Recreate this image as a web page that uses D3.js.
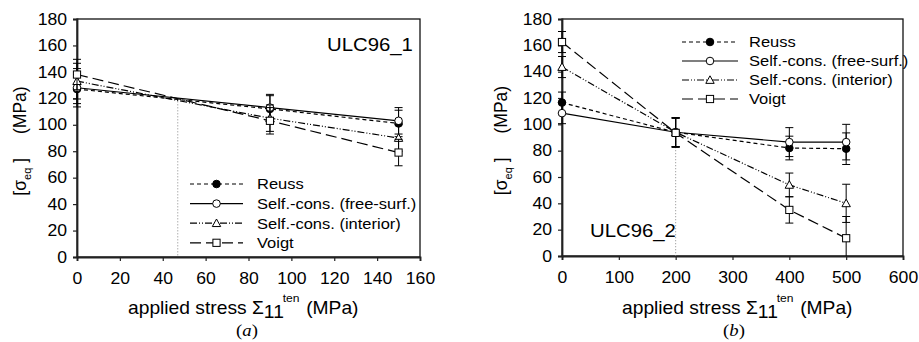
<!DOCTYPE html>
<html>
<head>
<meta charset="utf-8">
<script src="https://cdn.jsdelivr.net/npm/d3@7"></script>
<style>
  body { margin: 0; background: #fff; }
  svg { display: block; font-family: "Liberation Sans", Arial, sans-serif; }
</style>
</head>
<body>
<svg id="chart" width="919" height="342"></svg>
<script>
// ---- data ----
const seriesNames = ["Reuss", "Self.-cons. (free-surf.)", "Self.-cons. (interior)", "Voigt"];

// panel (a) ULC96_1
const xA = [0, 90, 150];
const reussA = [127, 112, 101];
const freeA = [128, 113, 103];
const interiorA = [133, 105, 90];
const voigtA = [138, 103, 79];
const reussErrA = [11, 10, 10];
const freeErrA = [14.5, 10, 10];
const interiorErrA = [13.5, 10, 10];
const voigtErrA = [11.5, 10, 10];
const xTicksA = [0, 20, 40, 60, 80, 100, 120, 140, 160];
const refXA = 47, refYA = 120;

// panel (b) ULC96_2
const xB = [0, 200, 400, 500];
const reussB = [116.5, 94, 82, 81.5];
const freeB = [108.5, 94, 86.5, 86.5];
const interiorB = [143.5, 94, 54, 40];
const voigtB = [162.5, 93.5, 35, 13.5];
const reussErrB = [8, 11, 9, 12];
const freeErrB = [8, 11, 11, 13.5];
const interiorErrB = [8, 11, 9, 14.5];
const voigtErrB = [8, 11, 10, 16.5];
const xTicksB = [0, 100, 200, 300, 400, 500, 600];
const refXB = 200, refYB = 94;

const yTicks = [0, 20, 40, 60, 80, 100, 120, 140, 160, 180];

// ---- styles ----
const dashes = ["4,3", null, "7,2,1,2,1,2", "11,5"];
const markers = ["dot", "circle", "triangle", "square"];
const STRETCH = 1.1; // horizontal text stretch seen in the reference

const svg = d3.select("#chart");

function drawMarker(g, type, x, y) {
  if (type === "dot") {
    g.append("circle").attr("cx", x).attr("cy", y).attr("r", 3.8).attr("fill", "#000").attr("stroke", "#000");
  } else if (type === "circle") {
    g.append("circle").attr("cx", x).attr("cy", y).attr("r", 3.8).attr("fill", "#fff").attr("stroke", "#000").attr("stroke-width", 1);
  } else if (type === "triangle") {
    const s = 4.2;
    g.append("path").attr("d", `M${x},${y - s}L${x + s},${y + s * 0.8}L${x - s},${y + s * 0.8}Z`)
      .attr("fill", "#fff").attr("stroke", "#000").attr("stroke-width", 1);
  } else {
    g.append("rect").attr("x", x - 3.6).attr("y", y - 3.6).attr("width", 7.2).attr("height", 7.2)
      .attr("fill", "#fff").attr("stroke", "#000").attr("stroke-width", 1);
  }
}

function panel(opts) {
  const { left, right, top, bottom, xDomain, xTicks, xs, ys, errs, ref, label, labelPos, legendPos, titleX, letter, letterX, yTitleX } = opts;
  const x = d3.scaleLinear().domain(xDomain).range([left, right]);
  const y = d3.scaleLinear().domain([0, 180]).range([bottom, top]);
  const g = svg.append("g");

  // frame
  g.append("rect").attr("x", left).attr("y", top).attr("width", right - left).attr("height", bottom - top)
    .attr("fill", "none").attr("stroke", "#111").attr("stroke-width", 1.3);

  // axes
  const yAx = g.append("g").attr("transform", `translate(${left},0)`)
    .call(d3.axisLeft(y).tickValues(yTicks).tickSize(4).tickPadding(6));
  const xAx = g.append("g").attr("transform", `translate(0,${bottom})`)
    .call(d3.axisBottom(x).tickValues(xTicks).tickSize(4).tickPadding(12));
  [yAx, xAx].forEach(a => {
    a.select(".domain").attr("stroke", "#222").attr("stroke-width", 1.8);
    a.selectAll(".tick line").attr("stroke", "#222").attr("stroke-width", 1.2);
    a.selectAll("text").attr("font-size", 16).attr("fill", "#000").attr("font-family", "Liberation Sans, Arial, sans-serif");
  });

  // reference dotted line
  g.append("line").attr("x1", x(ref[0])).attr("x2", x(ref[0])).attr("y1", y(ref[1])).attr("y2", bottom)
    .attr("stroke", "#888").attr("stroke-width", 1).attr("stroke-dasharray", "1,2");

  // series
  seriesNames.forEach((name, i) => {
    const pts = xs.map((xv, j) => [xv, ys[i][j], errs[i][j]]);
    const line = d3.line().x(d => x(d[0])).y(d => y(d[1]));
    g.append("path").datum(pts).attr("d", line).attr("fill", "none").attr("stroke", "#000")
      .attr("stroke-width", 1.2).attr("stroke-dasharray", dashes[i]);
    pts.forEach(d => {
      const cx = x(d[0]);
      const lo = Math.max(0, d[1] - d[2]), hi = d[1] + d[2];
      g.append("line").attr("x1", cx).attr("x2", cx).attr("y1", y(lo)).attr("y2", y(hi)).attr("stroke", "#000").attr("stroke-width", 1);
      [lo, hi].forEach(v => {
        if (v > 0) g.append("line").attr("x1", cx - 4).attr("x2", cx + 4).attr("y1", y(v)).attr("y2", y(v)).attr("stroke", "#000").attr("stroke-width", 1);
      });
    });
    pts.forEach(d => drawMarker(g, markers[i], x(d[0]), y(d[1])));
  });

  // legend
  seriesNames.forEach((name, i) => {
    const ly = legendPos.y + i * legendPos.dy;
    g.append("line").attr("x1", legendPos.x0).attr("x2", legendPos.x1).attr("y1", ly).attr("y2", ly)
      .attr("stroke", "#000").attr("stroke-width", 1.2).attr("stroke-dasharray", dashes[i]);
    drawMarker(g, markers[i], (legendPos.x0 + legendPos.x1) / 2, ly);
    g.append("text").attr("class", "stretch").attr("x", legendPos.tx).attr("y", ly + 5.5).attr("font-size", 15).text(name);
  });

  // panel label
  g.append("text").attr("class", "stretch").attr("x", labelPos[0]).attr("y", labelPos[1]).attr("font-size", 18.5).text(label);

  // x title
  const xt = g.append("text").attr("class", "stretch").attr("x", titleX).attr("y", 314).attr("font-size", 17.5);
  xt.append("tspan").text("applied stress \u03A3");
  xt.append("tspan").attr("dy", 4).text("11");
  xt.append("tspan").attr("dx", -1).attr("dy", -16).attr("font-size", 11).text("ten");
  xt.append("tspan").attr("dy", 12).attr("dx", 6).text("(MPa)");

  // letter
  g.append("text").attr("class", "stretch").attr("x", letterX).attr("y", 336).attr("text-anchor", "middle")
    .attr("font-family", "Liberation Serif, Times New Roman, serif").attr("font-size", 17)
    .html(`(<tspan font-style="italic">${letter}</tspan>)`);

  // y title
  const yt = g.append("text").attr("transform", `translate(${yTitleX},${(top + bottom) / 2 + 3}) rotate(-90)`)
    .attr("text-anchor", "middle").attr("font-size", 17.5);
  yt.append("tspan").text("[\u03C3");
  yt.append("tspan").attr("dy", 5).attr("font-size", 11).text("eq");
  yt.append("tspan").attr("dy", -5).text(" ]");
  yt.append("tspan").attr("dx", 24).text("(MPa)");

  // tick labels are also stretched
  g.selectAll(".tick text").classed("stretch", true);
}

panel({
  left: 77, right: 420, top: 19, bottom: 257,
  xDomain: [0, 160], xTicks: xTicksA, xs: xA,
  ys: [reussA, freeA, interiorA, voigtA],
  errs: [reussErrA, freeErrA, interiorErrA, voigtErrA],
  ref: [refXA, refYA], label: "ULC96_1", labelPos: [327, 51],
  legendPos: { x0: 190, x1: 243, y: 184, dy: 19.6, tx: 257 },
  titleX: 128, letter: "a", letterX: 247, yTitleX: 26
});

panel({
  left: 562, right: 903, top: 19, bottom: 256,
  xDomain: [0, 600], xTicks: xTicksB, xs: xB,
  ys: [reussB, freeB, interiorB, voigtB],
  errs: [reussErrB, freeErrB, interiorErrB, voigtErrB],
  ref: [refXB, refYB], label: "ULC96_2", labelPos: [590, 237],
  legendPos: { x0: 682, x1: 738, y: 42, dy: 19, tx: 749 },
  titleX: 622, letter: "b", letterX: 734, yTitleX: 507
});

// apply horizontal stretch about each text's anchor x
svg.selectAll("text.stretch").each(function () {
  const ax = +this.getAttribute("x") || 0;
  this.setAttribute("transform", `translate(${ax * (1 - STRETCH)},0) scale(${STRETCH},1)`);
});
</script>
</body>
</html>
